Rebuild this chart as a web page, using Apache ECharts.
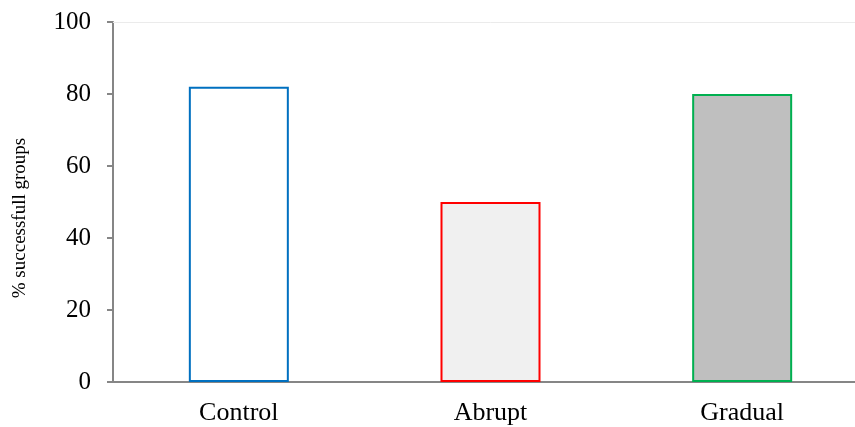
<!DOCTYPE html>
<html>
<head>
<meta charset="utf-8">
<script src="https://cdn.jsdelivr.net/npm/echarts@6/dist/echarts.min.js"></script>
<style>html,body{margin:0;padding:0;background:#fff;overflow:hidden;width:855px;height:427px}#c{width:868px;height:427px}</style>
</head>
<body>
<div id="c"></div>
<script>
const categories = ['Control', 'Abrupt', 'Gradual'];
const values = [82, 50, 80];
const yTicks = [0, 20, 40, 60, 80, 100];
const yTitle = '% successfull groups';
const borderColors = ['#0070C0', '#FF0000', '#00B050'];
const fillColors = ['#FFFFFF', '#F0F0F0', '#BFBFBF'];

const chart = echarts.init(document.getElementById('c'));
const font = 'Liberation Serif, Times New Roman, serif';
chart.setOption({
  animation: false,
  grid: { left: 113, right: 0, top: 22, bottom: 45, containLabel: false },
  graphic: [{
    type: 'text', x: 20, y: 218, rotation: Math.PI / 2,
    style: { text: yTitle, fill: '#000', font: '19px ' + font, align: 'center', verticalAlign: 'middle' }
  }],
  xAxis: [{
    type: 'category', data: categories, position: 'bottom',
    axisLine: { lineStyle: { color: '#868686', width: 2 } },
    axisTick: { show: false },
    axisLabel: { color: '#000', fontFamily: font, fontSize: 26, margin: 18 }
  }, {
    type: 'category', data: categories, position: 'top',
    axisLine: { lineStyle: { color: '#EBEBEB', width: 1 } },
    axisTick: { show: false }, axisLabel: { show: false }
  }],
  yAxis: {
    type: 'value', min: yTicks[0], max: yTicks[yTicks.length - 1], interval: 20,
    axisLine: { show: true, lineStyle: { color: '#868686', width: 2 } },
    axisTick: { show: true, length: 6, lineStyle: { color: '#868686', width: 2 } },
    axisLabel: { color: '#000', fontFamily: font, fontSize: 25, margin: 22 },
    splitLine: { show: false }
  },
  series: [{
    type: 'bar', barWidth: 100, xAxisIndex: 0,
    data: values.map((v, i) => ({
      value: v,
      itemStyle: { color: fillColors[i], borderColor: borderColors[i], borderWidth: 2 }
    }))
  }]
});
</script>
</body>
</html>
